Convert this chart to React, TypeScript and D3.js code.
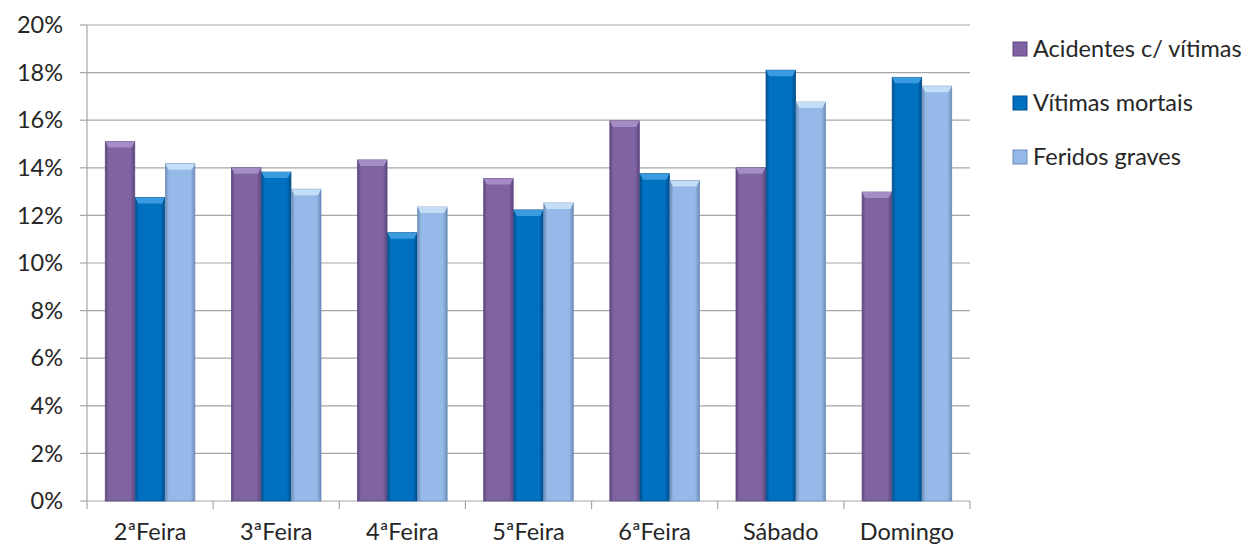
import React from "react";
import * as d3 from "d3";

const categories = ["2ªFeira", "3ªFeira", "4ªFeira", "5ªFeira", "6ªFeira", "Sábado", "Domingo"];
const seriesNames = ["Acidentes c/ vítimas", "Vítimas mortais", "Feridos graves"];
const acidentes = [15.1, 14.0, 14.33, 13.55, 15.97, 14.0, 12.98];
const mortais = [12.75, 13.82, 11.27, 12.23, 13.75, 18.1, 17.8];
const feridos = [14.17, 13.1, 12.35, 12.52, 13.47, 16.76, 17.43];
const yTicks = [0, 2, 4, 6, 8, 10, 12, 14, 16, 18, 20];
const colors = ["#8064A2", "#0070C0", "#95B9E8"];
const lightEdge = ["#A58CC4", "#3B9BE0", "#C4DEF8"];
const darkEdge = ["#5E4780", "#004F8C", "#6D8EB8"];

export default function App() {
  const W = 1250, H = 554;
  const left = 87, right = 970, top = 25, bottom = 501;
  const x = d3.scaleBand().domain(categories).range([left, right]).paddingInner(0.29).paddingOuter(0.145);
  const y = d3.scaleLinear().domain([0, 20]).range([bottom, top]);
  const xs = d3.scaleBand().domain(seriesNames).range([0, x.bandwidth()]).paddingInner(0.02);
  const data = [acidentes, mortais, feridos];
  const font = "Lato, 'Open Sans', sans-serif";
  const fs = 23.5;
  const step = (right - left) / categories.length;

  return (
    <svg width={W} height={H} style={{ position: "absolute", left: 0, top: 0, background: "#fff" }}>
      <defs>
        {colors.map((c, i) => (
          <linearGradient key={i} id={`g${i}`} x1="0" x2="1" y1="0" y2="0">
            <stop offset="0" stopColor={darkEdge[i]} />
            <stop offset="0.12" stopColor={c} />
            <stop offset="0.85" stopColor={c} />
            <stop offset="1" stopColor={darkEdge[i]} />
          </linearGradient>
        ))}
      </defs>
      {yTicks.map((t) => (
        <g key={t}>
          {t > 0 && <line x1={left} x2={right} y1={y(t)} y2={y(t)} stroke="#A6A6A6" strokeWidth={1.2} />}
          <line x1={left - 7} x2={left} y1={y(t)} y2={y(t)} stroke="#A6A6A6" strokeWidth={1.2} />
          <text x={63} y={y(t)} dy="0.35em" textAnchor="end" fontFamily={font} fontSize={fs} fill="#262626">{t}%</text>
        </g>
      ))}
      <line x1={left} x2={left} y1={top} y2={bottom} stroke="#A6A6A6" strokeWidth={1.2} />
      <line x1={left} x2={right} y1={bottom} y2={bottom} stroke="#A6A6A6" strokeWidth={1.2} />
      {d3.range(categories.length + 1).map((i) => (
        <line key={i} x1={left + i * step} x2={left + i * step} y1={bottom} y2={bottom + 8} stroke="#A6A6A6" strokeWidth={1.2} />
      ))}
      {categories.map((c, ci) => (
        <g key={c}>
          {data.map((vals, si) => {
            const bx = (x(c) as number) + (xs(seriesNames[si]) as number);
            const bw = xs.bandwidth();
            const by = y(vals[ci]);
            const bh = bottom - by;
            const bev = 6;
            return (
              <g key={si}>
                <rect x={bx} y={by} width={bw} height={bh} fill={`url(#g${si})`} stroke={darkEdge[si]} strokeWidth={0.8} />
                <polygon points={`${bx},${by} ${bx + bw},${by} ${bx + bw - 3},${by + bev} ${bx + 3},${by + bev}`} fill={lightEdge[si]} />
              </g>
            );
          })}
          <text x={(x(c) as number) + x.bandwidth() / 2} y={540} textAnchor="middle" fontFamily={font} fontSize={fs} fill="#262626">{c}</text>
        </g>
      ))}
      {seriesNames.map((s, i) => (
        <g key={s} transform={`translate(1013, ${49 + i * 54})`}>
          <rect x={0} y={-7} width={14} height={14} fill={colors[i]} stroke={darkEdge[i]} strokeWidth={1} />
          <text x={20} y={0} dy="0.35em" fontFamily={font} fontSize={fs} fill="#262626">{s}</text>
        </g>
      ))}
    </svg>
  );
}
